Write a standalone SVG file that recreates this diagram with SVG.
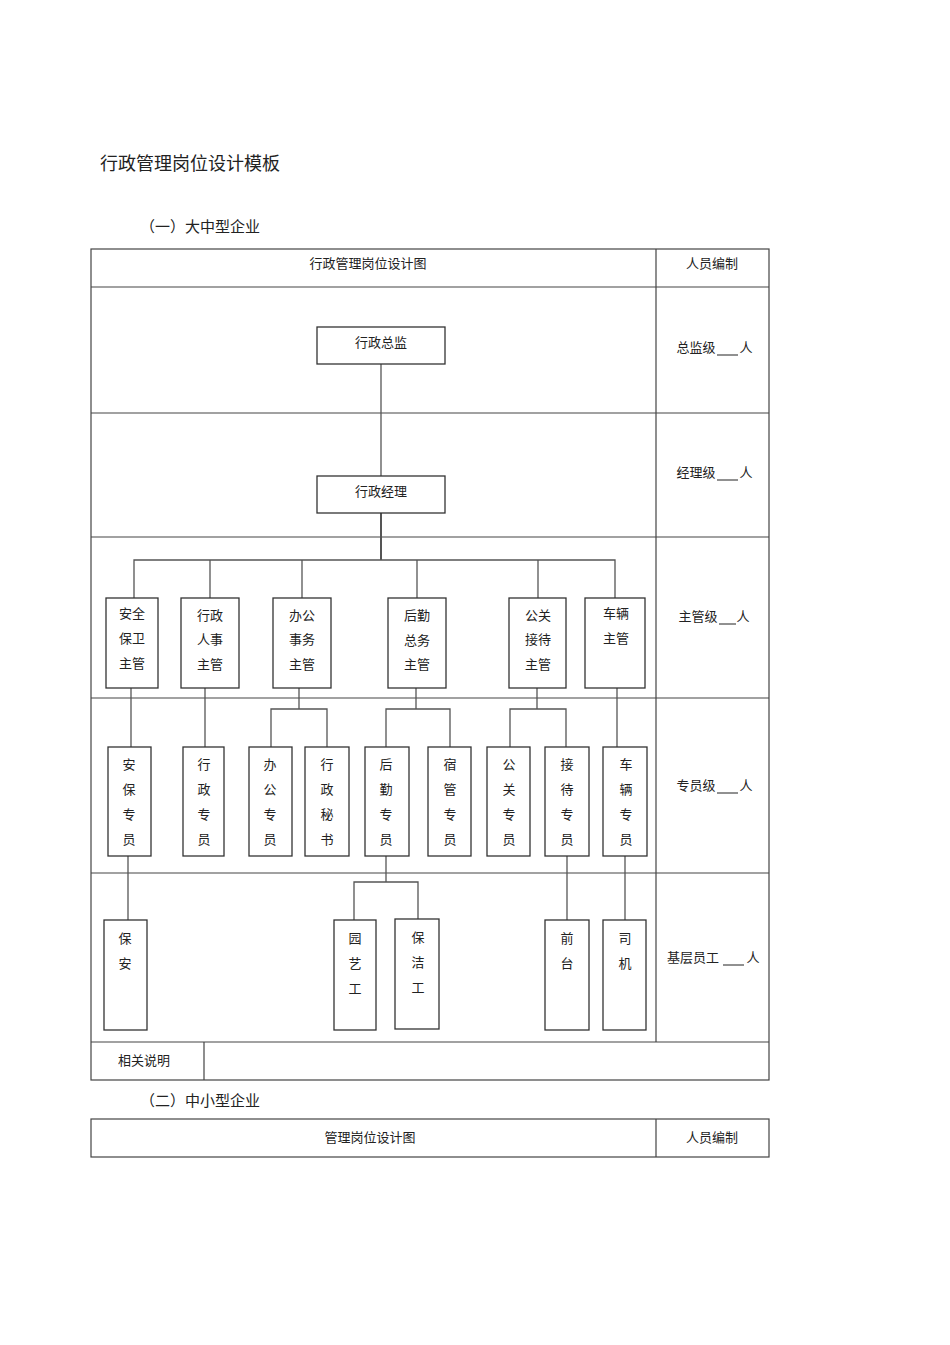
<svg xmlns="http://www.w3.org/2000/svg" width="950" height="1345" viewBox="0 0 950 1345">
<style>
text{font-family:"Liberation Sans","Noto Sans CJK SC",sans-serif;fill:#222;font-size:13px;text-anchor:middle}
.b{fill:#fff;stroke:#333;stroke-width:1.3}
.t{fill:none;stroke:#444;stroke-width:1.2}
.c{fill:none;stroke:#555;stroke-width:1.3}
</style>
<rect width="950" height="1345" fill="#fff"/>
<text x="100" y="170" style="font-size:18px;text-anchor:start">行政管理岗位设计模板</text>
<text x="140" y="232" style="font-size:15px;text-anchor:start">（一）大中型企业</text>
<g id="table1" class="t">
<rect x="91" y="249" width="678" height="831"/>
<line x1="656" y1="249" x2="656" y2="1042"/>
<line x1="91" y1="287" x2="769" y2="287"/>
<line x1="91" y1="413" x2="769" y2="413"/>
<line x1="91" y1="537" x2="769" y2="537"/>
<line x1="91" y1="698" x2="769" y2="698"/>
<line x1="91" y1="873" x2="769" y2="873"/>
<line x1="91" y1="1042" x2="769" y2="1042"/>
<line x1="204" y1="1042" x2="204" y2="1080"/>
</g>
<text x="368" y="268">行政管理岗位设计图</text>
<text x="712" y="268">人员编制</text>
<g id="labels">
<text x="696" y="352">总监级</text><line x1="717" y1="355" x2="738" y2="355" stroke="#222"/><text x="746" y="352">人</text>
<text x="696" y="477">经理级</text><line x1="717" y1="480" x2="738" y2="480" stroke="#222"/><text x="746" y="477">人</text>
<text x="698" y="621">主管级</text><line x1="719" y1="624" x2="736" y2="624" stroke="#222"/><text x="743" y="621">人</text>
<text x="696" y="790">专员级</text><line x1="717" y1="793" x2="738" y2="793" stroke="#222"/><text x="746" y="790">人</text>
<text x="693" y="962">基层员工</text><line x1="723" y1="965" x2="744" y2="965" stroke="#222"/><text x="753" y="962">人</text>
<text x="144" y="1065">相关说明</text>
</g>
<g id="connectors" class="c">
<line x1="381" y1="364" x2="381" y2="476"/>
<line x1="381" y1="513" x2="381" y2="560" stroke-width="2"/>
<polyline points="134,598 134,560 615,560 615,598"/>
<line x1="210" y1="560" x2="210" y2="598"/>
<line x1="302" y1="560" x2="302" y2="598"/>
<line x1="417" y1="560" x2="417" y2="598"/>
<line x1="538" y1="560" x2="538" y2="598"/>
<line x1="131" y1="688" x2="131" y2="747"/>
<line x1="205" y1="688" x2="205" y2="747"/>
<line x1="299" y1="688" x2="299" y2="709"/>
<polyline points="271,747 271,709 327,709 327,747"/>
<line x1="416" y1="688" x2="416" y2="709"/>
<polyline points="386,747 386,709 450,709 450,747"/>
<line x1="537" y1="688" x2="537" y2="709"/>
<polyline points="510,747 510,709 566,709 566,747"/>
<line x1="617" y1="688" x2="617" y2="747"/>
<line x1="128" y1="856" x2="128" y2="920"/>
<line x1="386" y1="856" x2="386" y2="882"/>
<polyline points="354,920 354,882 418,882 418,920"/>
<line x1="567" y1="856" x2="567" y2="920"/>
<line x1="625" y1="856" x2="625" y2="920"/>
</g>
<g id="n-zongjian"><rect class="b" x="317" y="327" width="128" height="37"/><text x="381" y="347">行政总监</text></g>
<g id="n-jingli"><rect class="b" x="317" y="476" width="128" height="37"/><text x="381" y="496">行政经理</text></g>
<g id="n-anquan"><rect class="b" x="106" y="598" width="52" height="90"/><text x="132" y="618">安全</text><text x="132" y="643">保卫</text><text x="132" y="668">主管</text></g>
<g id="n-renshi"><rect class="b" x="181" y="598" width="58" height="90"/><text x="210" y="620">行政</text><text x="210" y="644">人事</text><text x="210" y="669">主管</text></g>
<g id="n-bangong"><rect class="b" x="273" y="598" width="58" height="90"/><text x="302" y="620">办公</text><text x="302" y="644">事务</text><text x="302" y="669">主管</text></g>
<g id="n-houqin"><rect class="b" x="388" y="598" width="58" height="90"/><text x="417" y="620">后勤</text><text x="417" y="645">总务</text><text x="417" y="669">主管</text></g>
<g id="n-gongguan"><rect class="b" x="509" y="598" width="57" height="90"/><text x="538" y="620">公关</text><text x="538" y="644">接待</text><text x="538" y="669">主管</text></g>
<g id="n-cheliang"><rect class="b" x="585" y="598" width="60" height="90" stroke-width="1.8"/><text x="616" y="618">车辆</text><text x="616" y="643">主管</text></g>
<g id="n-anbao"><rect class="b" x="108" y="747" width="43" height="109"/><text x="129" y="769">安</text><text x="129" y="794">保</text><text x="129" y="819">专</text><text x="129" y="844">员</text></g>
<g id="n-xzzy"><rect class="b" x="183" y="747" width="41" height="109"/><text x="204" y="769">行</text><text x="204" y="794">政</text><text x="204" y="819">专</text><text x="204" y="844">员</text></g>
<g id="n-bgzy"><rect class="b" x="249" y="747" width="43" height="109"/><text x="270" y="769">办</text><text x="270" y="794">公</text><text x="270" y="819">专</text><text x="270" y="844">员</text></g>
<g id="n-xzms"><rect class="b" x="305" y="747" width="44" height="109"/><text x="327" y="769">行</text><text x="327" y="794">政</text><text x="327" y="819">秘</text><text x="327" y="844">书</text></g>
<g id="n-hqzy"><rect class="b" x="365" y="747" width="44" height="109"/><text x="386" y="769">后</text><text x="386" y="794">勤</text><text x="386" y="819">专</text><text x="386" y="844">员</text></g>
<g id="n-sgzy"><rect class="b" x="428" y="747" width="43" height="109"/><text x="450" y="769">宿</text><text x="450" y="794">管</text><text x="450" y="819">专</text><text x="450" y="844">员</text></g>
<g id="n-ggzy"><rect class="b" x="487" y="747" width="43" height="109"/><text x="509" y="769">公</text><text x="509" y="794">关</text><text x="509" y="819">专</text><text x="509" y="844">员</text></g>
<g id="n-jdzy"><rect class="b" x="545" y="747" width="44" height="109"/><text x="567" y="769">接</text><text x="567" y="794">待</text><text x="567" y="819">专</text><text x="567" y="844">员</text></g>
<g id="n-clzy"><rect class="b" x="603" y="747" width="44" height="109"/><text x="626" y="769">车</text><text x="626" y="794">辆</text><text x="626" y="819">专</text><text x="626" y="844">员</text></g>
<g id="n-baoan"><rect class="b" x="104" y="920" width="43" height="110"/><text x="125" y="943">保</text><text x="125" y="968">安</text></g>
<g id="n-yuanyi"><rect class="b" x="334" y="920" width="42" height="110"/><text x="355" y="943">园</text><text x="355" y="968">艺</text><text x="355" y="993">工</text></g>
<g id="n-baojie"><rect class="b" x="395" y="919" width="44" height="110"/><text x="418" y="942">保</text><text x="418" y="967">洁</text><text x="418" y="992">工</text></g>
<g id="n-qiantai"><rect class="b" x="545" y="920" width="44" height="110"/><text x="567" y="943">前</text><text x="567" y="968">台</text></g>
<g id="n-siji"><rect class="b" x="603" y="920" width="43" height="110"/><text x="625" y="943">司</text><text x="625" y="968">机</text></g>
<text x="140" y="1106" style="font-size:15px;text-anchor:start">（二）中小型企业</text>
<g id="table2" class="t">
<rect x="91" y="1119" width="678" height="38"/>
<line x1="656" y1="1119" x2="656" y2="1157"/>
</g>
<text x="370" y="1142">管理岗位设计图</text>
<text x="712" y="1142">人员编制</text>
</svg>
